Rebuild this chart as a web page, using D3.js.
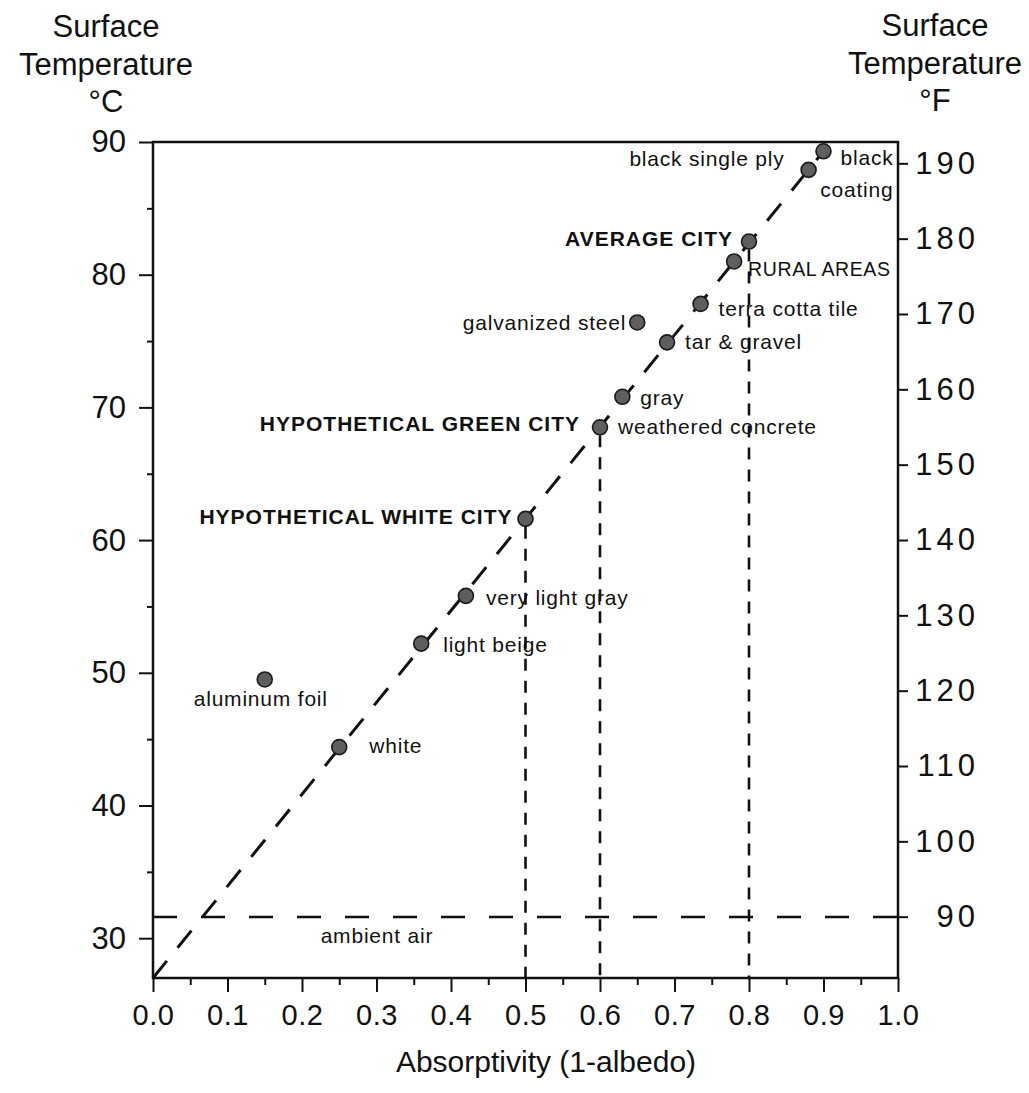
<!DOCTYPE html>
<html>
<head>
<meta charset="utf-8">
<script src="https://cdn.jsdelivr.net/npm/d3@7"></script>
<style>
  body { margin: 0; background: #fff; }
  text { font-family: "Liberation Sans", Arial, Helvetica, sans-serif; fill: #111; }
  .tick line { stroke: #111; stroke-width: 2; }
  .label { font-size: 21px; letter-spacing: 0.8px; }
  .label.bold { font-weight: bold; font-size: 21px; letter-spacing: 1px; }
  .label.caps { font-size: 19.5px; letter-spacing: 0.6px; }
  .title { font-size: 31px; }
</style>
</head>
<body>
<div id="wrapper"></div>
<script>
// data
const materials = [
  "black coating", "black single ply", "AVERAGE CITY", "RURAL AREAS",
  "terra cotta tile", "galvanized steel", "tar & gravel", "gray",
  "weathered concrete", "HYPOTHETICAL WHITE CITY", "very light gray",
  "light beige", "aluminum foil", "white"
];
const absorptivity = [0.90, 0.88, 0.80, 0.78, 0.735, 0.65, 0.69, 0.63, 0.60, 0.50, 0.42, 0.36, 0.15, 0.25];
const surfaceTempC = [89.3, 87.9, 82.5, 81.0, 77.8, 76.4, 74.9, 70.8, 68.5, 61.6, 55.8, 52.2, 49.5, 44.4];

// the green city sits on the weathered concrete point
const greenCityAbs = 0.60;
const greenCityTemp = 68.5;

// dashed trend line and ambient air
const trendAbs = [0, 0.90];
const trendTemp = [27, 89.3];
const ambientTempC = 31.6;

// city drop lines
const dropAbs = [0.50, 0.60, 0.80];
const dropTemp = [61.6, 68.5, 82.5];

// ticks
const xTicks = d3.range(0, 1.0001, 0.1);
const xMinorTicks = d3.range(0.05, 1, 0.1);
const cTicks = [30, 40, 50, 60, 70, 80, 90];
const cMinorTicks = [35, 45, 55, 65, 75, 85];
const fTicks = [90, 100, 110, 120, 130, 140, 150, 160, 170, 180, 190];

async function drawChart() {
  const dataset = materials.map((m, i) => ({
    name: m,
    abs: absorptivity[i],
    temp: surfaceTempC[i],
  }));
  const xAccessor = (d) => d.abs;
  const yAccessor = (d) => d.temp;

  // label placement next to each dot (pixels)
  const labelLayout = {
    "black coating": { dx: 70, dy: 14, anchor: "end", lines: ["black", "coating"] },
    "black single ply": { dx: -24, dy: -4, anchor: "end" },
    "AVERAGE CITY": { dx: -16, dy: 4, anchor: "end", cls: "bold" },
    "RURAL AREAS": { dx: 14, dy: 15, anchor: "start", cls: "caps" },
    "terra cotta tile": { dx: 18, dy: 12, anchor: "start" },
    "galvanized steel": { dx: -11, dy: 8, anchor: "end" },
    "tar & gravel": { dx: 18, dy: 7, anchor: "start" },
    "gray": { dx: 18, dy: 8, anchor: "start" },
    "weathered concrete": { dx: 18, dy: 7, anchor: "start" },
    "HYPOTHETICAL WHITE CITY": { dx: -13, dy: 5, anchor: "end", cls: "bold" },
    "very light gray": { dx: 20, dy: 9, anchor: "start" },
    "light beige": { dx: 22, dy: 8, anchor: "start" },
    "aluminum foil": { dx: -4, dy: 27, anchor: "middle" },
    "white": { dx: 30, dy: 6, anchor: "start" },
  };

  // 2. dimensions
  let dimensions = {
    width: 1029,
    height: 1093,
    margin: { top: 142, right: 131, bottom: 115, left: 153 },
  };
  dimensions.boundedWidth =
    dimensions.width - dimensions.margin.left - dimensions.margin.right;
  dimensions.boundedHeight =
    dimensions.height - dimensions.margin.top - dimensions.margin.bottom;

  // 3. canvas
  const wrapper = d3
    .select("#wrapper")
    .append("svg")
    .attr("width", dimensions.width)
    .attr("height", dimensions.height);

  wrapper.append("rect")
    .attr("width", dimensions.width)
    .attr("height", dimensions.height)
    .attr("fill", "#fff");

  const bounds = wrapper
    .append("g")
    .attr("transform", `translate(${dimensions.margin.left}, ${dimensions.margin.top})`);

  // 4. scales
  const xScale = d3.scaleLinear().domain([0, 1]).range([0, dimensions.boundedWidth]);
  const yScale = d3.scaleLinear().domain([27, 90]).range([dimensions.boundedHeight, 0]);
  // fahrenheit axis as printed on the right side
  const fScale = d3.scaleLinear().domain([81.86, 192.83]).range([dimensions.boundedHeight, 0]);

  // 6. peripherals
  const xMinor = bounds.append("g")
    .attr("transform", `translate(0, ${dimensions.boundedHeight})`)
    .call(d3.axisBottom(xScale).tickValues(xMinorTicks).tickSize(7).tickFormat(""));
  const xAxis = bounds.append("g")
    .attr("transform", `translate(0, ${dimensions.boundedHeight})`)
    .call(d3.axisBottom(xScale).tickValues(xTicks).tickSize(14).tickPadding(12).tickFormat(d3.format(".1f")));
  xAxis.selectAll("text").style("font-size", "29px").style("letter-spacing", "0.5px");

  const yMinor = bounds.append("g")
    .call(d3.axisLeft(yScale).tickValues(cMinorTicks).tickSize(6).tickFormat(""));
  const yAxis = bounds.append("g")
    .call(d3.axisLeft(yScale).tickValues(cTicks).tickSize(14).tickPadding(13));
  yAxis.selectAll("text").style("font-size", "31px");

  const fAxis = bounds.append("g")
    .attr("transform", `translate(${dimensions.boundedWidth}, 0)`)
    .call(d3.axisRight(fScale).tickValues(fTicks).tickSize(10));
  fAxis.selectAll("text")
    .attr("x", 81)
    .attr("text-anchor", "end")
    .style("font-size", "31px")
    .style("letter-spacing", "4px");

  [xMinor, xAxis, yMinor, yAxis, fAxis].forEach((a) => {
    a.select(".domain").remove();
    a.selectAll("text").attr("fill", "#111");
  });

  // frame
  bounds.append("rect")
    .attr("width", dimensions.boundedWidth)
    .attr("height", dimensions.boundedHeight)
    .attr("fill", "none")
    .attr("stroke", "#111")
    .attr("stroke-width", 2.5);

  // titles
  const leftTitle = wrapper.append("text").attr("class", "title").attr("text-anchor", "middle");
  ["Surface", "Temperature", "°C"].forEach((t, i) =>
    leftTitle.append("tspan").attr("x", 106).attr("y", 37 + i * 37.5).text(t)
  );
  const rightTitle = wrapper.append("text").attr("class", "title").attr("text-anchor", "middle");
  ["Surface", "Temperature", "°F"].forEach((t, i) =>
    rightTitle.append("tspan").attr("x", 935).attr("y", 36 + i * 37.5).text(t)
  );
  wrapper.append("text")
    .attr("class", "title")
    .attr("x", 546)
    .attr("y", 1072)
    .attr("text-anchor", "middle")
    .style("font-size", "30px")
    .text("Absorptivity (1-albedo)");

  // 5. data
  // ambient air
  bounds.append("line")
    .attr("x1", xScale(0))
    .attr("x2", xScale(1))
    .attr("y1", yScale(ambientTempC))
    .attr("y2", yScale(ambientTempC))
    .attr("stroke", "#111")
    .attr("stroke-width", 2.5)
    .attr("stroke-dasharray", "24,24");
  bounds.append("text")
    .attr("class", "label")
    .attr("x", xScale(0.225))
    .attr("y", yScale(ambientTempC) + 26)
    .text("ambient air");

  // drop lines
  bounds.selectAll(".drop")
    .data(dropAbs)
    .join("line")
    .attr("class", "drop")
    .attr("x1", (d) => xScale(d))
    .attr("x2", (d) => xScale(d))
    .attr("y1", (d, i) => yScale(dropTemp[i]) + 8)
    .attr("y2", dimensions.boundedHeight)
    .attr("stroke", "#111")
    .attr("stroke-width", 2.6)
    .attr("stroke-dasharray", "12,10");

  // trend line
  const trendLine = d3.line()
    .x((d, i) => xScale(trendAbs[i]))
    .y((d, i) => yScale(trendTemp[i]));
  bounds.append("path")
    .attr("d", trendLine(trendAbs))
    .attr("fill", "none")
    .attr("stroke", "#111")
    .attr("stroke-width", 3)
    .attr("stroke-dasharray", "22,17");

  // dots
  bounds.selectAll(".dot")
    .data(dataset)
    .join("circle")
    .attr("class", "dot")
    .attr("cx", (d) => xScale(xAccessor(d)))
    .attr("cy", (d) => yScale(yAccessor(d)))
    .attr("r", 7.5)
    .attr("fill", "#5e5e5e")
    .attr("stroke", "#1a1a1a")
    .attr("stroke-width", 1.6);

  // labels
  dataset.forEach((d) => {
    const l = labelLayout[d.name];
    const t = bounds.append("text")
      .attr("class", "label " + (l.cls || ""))
      .attr("text-anchor", l.anchor)
      .attr("x", xScale(xAccessor(d)) + l.dx)
      .attr("y", yScale(yAccessor(d)) + l.dy);
    if (l.lines) {
      l.lines.forEach((s, i) =>
        t.append("tspan")
          .attr("x", xScale(xAccessor(d)) + l.dx)
          .attr("dy", i == 0 ? 0 : 32)
          .text(s)
      );
    } else {
      t.text(d.name);
    }
  });

  bounds.append("text")
    .attr("class", "label bold")
    .attr("text-anchor", "end")
    .attr("x", xScale(greenCityAbs) - 20)
    .attr("y", yScale(greenCityTemp) + 4)
    .text("HYPOTHETICAL GREEN CITY");
}
drawChart();
</script>
</body>
</html>
